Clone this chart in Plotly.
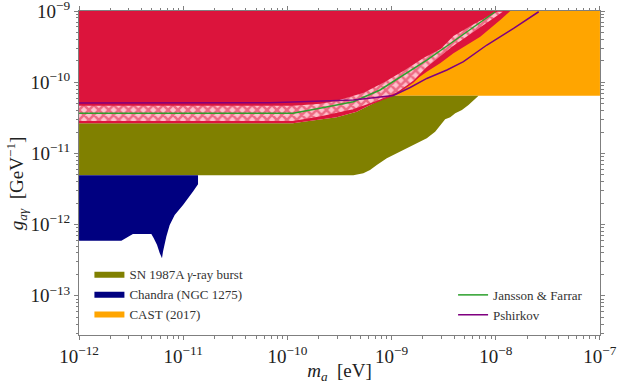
import numpy as np
import plotly.graph_objects as go

# all values are log10 (m_a in eV, g_ag in GeV^-1)

# SN 1987A gamma-ray burst limit (olive)
sn_logm = [-12, -9.947, -9.848, -9.527, -9.335, -9.207, -9.111, -8.998, -8.165,
           -8.262, -8.325, -8.389, -8.437, -8.486, -8.534, -8.582, -8.662, -8.758,
           -8.854, -8.950, -9.046, -9.142, -9.207, -9.271, -9.367, -12]
sn_logg = [-10.576, -10.576, -10.554, -10.492, -10.413, -10.319, -10.249, -10.19, -10.19,
           -10.319, -10.389, -10.436, -10.492, -10.520, -10.600, -10.694, -10.787, -10.857,
           -10.927, -10.997, -11.067, -11.161, -11.232, -11.278, -11.305, -11.305]

# Chandra (NGC 1275) limit (navy)
ch_logm = [-12, -10.858, -10.858, -10.906, -11.002, -11.082, -11.130, -11.162, -11.194,
           -11.204, -11.226, -11.252, -11.284, -11.306, -11.483, -11.594, -12]
ch_logg = [-11.305, -11.305, -11.432, -11.536, -11.723, -11.863, -12.004, -12.168, -12.378,
           -12.471, -12.397, -12.284, -12.186, -12.130, -12.130, -12.228, -12.228]

# CAST (2017)
cast_logg = -10.19

# excluded region above the band (crimson)
ex_logm = [-12, -7.861, -7.957, -8.149, -8.406, -8.534, -8.662, -8.822, -8.998,
           -9.111, -9.207, -9.335, -9.527, -9.848, -9.947, -12]
ex_logg = [-9.0, -9.0, -9.126, -9.361, -9.594, -9.734, -9.852, -10.015, -10.203,
           -10.249, -10.319, -10.413, -10.492, -10.554, -10.576, -10.576]

# hatched band (magnetic field model spread)
band_up_logm = [-12, -9.947, -9.688, -9.527, -9.271, -9.079, -8.887, -8.694, -8.534,
                -8.406, -8.213, -7.989]
band_up_logg = [-10.319, -10.319, -10.291, -10.249, -10.137, -9.996, -9.828, -9.646, -9.524,
                -9.337, -9.173, -9.0]
band_lo_logm = [-12, -9.947, -9.688, -9.367, -9.142, -8.950, -8.790, -8.662, -8.406,
                -8.149, -7.909]
band_lo_logg = [-10.554, -10.554, -10.492, -10.389, -10.273, -10.155, -9.992, -9.800, -9.501,
                -9.243, -9.0]

# Jansson & Farrar
jf_logm = [-12, -9.947, -9.688, -9.367, -9.111, -8.887, -8.662, -8.469, -8.245, -8.005]
jf_logg = [-10.436, -10.436, -10.366, -10.273, -10.109, -9.898, -9.688, -9.491, -9.253, -9.010]

# Pshirkov
ps_logm = [-12, -10.168, -9.367, -9.111, -8.983, -8.822, -8.662, -8.469, -8.310, -8.085,
           -7.829, -7.588]
ps_logg = [-10.291, -10.287, -10.249, -10.211, -10.186, -10.074, -9.947, -9.828, -9.712,
           -9.477, -9.243, -9.010]

x_ticks = [-12, -11, -10, -9, -8, -7]
y_ticks = [-13, -12, -11, -10, -9]

p = lambda a: 10 ** np.array(a, dtype=float)

FONT = "Liberation Serif"
AX = "#7f7f7f"

fig = go.Figure()

# CAST band across the whole range, everything else on top
fig.add_trace(go.Scatter(x=p([-12, -7, -7, -12]), y=p([cast_logg, cast_logg, -9, -9]),
                         fill="toself", mode="lines", line=dict(width=0, color="orange"),
                         fillcolor="orange", name="CAST (2017)", legend="legend",
                         legendrank=3, hoverinfo="skip"))
fig.add_trace(go.Scatter(x=p(sn_logm), y=p(sn_logg), fill="toself", mode="lines",
                         line=dict(width=0, color="olive"), fillcolor="olive",
                         name="SN 1987A <i>γ</i>-ray burst", legend="legend",
                         legendrank=1, hoverinfo="skip"))
fig.add_trace(go.Scatter(x=p(ch_logm), y=p(ch_logg), fill="toself", mode="lines",
                         line=dict(width=0, color="navy"), fillcolor="navy",
                         name="Chandra (NGC 1275)", legend="legend",
                         legendrank=2, hoverinfo="skip"))
fig.add_trace(go.Scatter(x=p(ex_logm), y=p(ex_logg), fill="toself", mode="lines",
                         line=dict(width=0, color="crimson"), fillcolor="crimson",
                         showlegend=False, hoverinfo="skip"))

band_x = list(band_up_logm) + band_lo_logm[::-1]
band_y = list(band_up_logg) + band_lo_logg[::-1]
fig.add_trace(go.Scatter(x=p(band_x), y=p(band_y), fill="toself", mode="lines",
                         line=dict(width=1.5, color="crimson"), fillcolor="pink",
                         fillpattern=dict(shape="x", fgcolor="crimson", bgcolor="pink",
                                          size=7, solidity=0.6),
                         showlegend=False, hoverinfo="skip"))

fig.add_trace(go.Scatter(x=p(jf_logm), y=p(jf_logg), mode="lines",
                         line=dict(color="#2ca02c", width=1.5), name="Jansson &amp; Farrar",
                         legend="legend2"))
fig.add_trace(go.Scatter(x=p(ps_logm), y=p(ps_logg), mode="lines",
                         line=dict(color="purple", width=1.5), name="Pshirkov",
                         legend="legend2"))

def minor(decades):
    return [m * 10.0 ** d for d in decades for m in range(2, 10)]

axis_common = dict(type="log", showgrid=False, zeroline=False, showline=True,
                   linecolor=AX, linewidth=1, mirror="allticks", ticks="outside",
                   ticklen=4, tickcolor=AX, tickfont=dict(family=FONT, size=19, color="#222"),
                   tickmode="array", automargin=False, ticklabeloverflow="allow")

# ranges padded by a hair so the end ticks (1e-12, 1e-7, 1e-9) are not dropped by rounding
fig.update_xaxes(**axis_common, range=[-12.0005, -6.9995],
                 tickvals=p(x_ticks), ticktext=[f"10<sup>−{-t}</sup>" for t in x_ticks],
                 minor=dict(ticks="outside", ticklen=2.5, tickcolor=AX, tickmode="array",
                            tickvals=minor(range(-12, -7))),
                 title=dict(text="<i>m</i><sub><i>a</i></sub>  [eV]",
                            font=dict(family=FONT, size=19, color="#222"), standoff=2))
fig.update_yaxes(**axis_common, range=[-13.55, -8.9995],
                 tickvals=p(y_ticks), ticktext=[f"10<sup>−{-t}</sup>" for t in y_ticks],
                 minor=dict(ticks="outside", ticklen=2.5, tickcolor=AX, tickmode="array",
                            tickvals=minor(range(-14, -9))))

# y label placed as an annotation so it can sit a little below the axis centre
fig.add_annotation(text="<i>g</i><sub><i>aγ</i></sub>  [GeV<sup>−1</sup>]",
                   xref="paper", yref="paper", x=-0.12, y=0.47, textangle=-90,
                   showarrow=False, xanchor="center", yanchor="middle",
                   font=dict(family=FONT, size=19, color="#222"))

legend_style = dict(font=dict(family=FONT, size=13, color="#333"), bgcolor="rgba(0,0,0,0)",
                    borderwidth=0, xanchor="left", yanchor="top", tracegroupgap=0,
                    itemclick=False)

fig.update_layout(
    width=623, height=384,
    margin=dict(l=79, r=23, t=11, b=49),
    plot_bgcolor="white", paper_bgcolor="white",
    font=dict(family=FONT),
    legend=dict(**legend_style, x=0.02, y=0.235),
    legend2=dict(**legend_style, x=0.718, y=0.17),
)

# the page body has a default 8px margin, drop it so the figure sits at 0,0
fig.write_html("out.html", config={"displayModeBar": False},
               post_script="document.body.style.margin='0';")
